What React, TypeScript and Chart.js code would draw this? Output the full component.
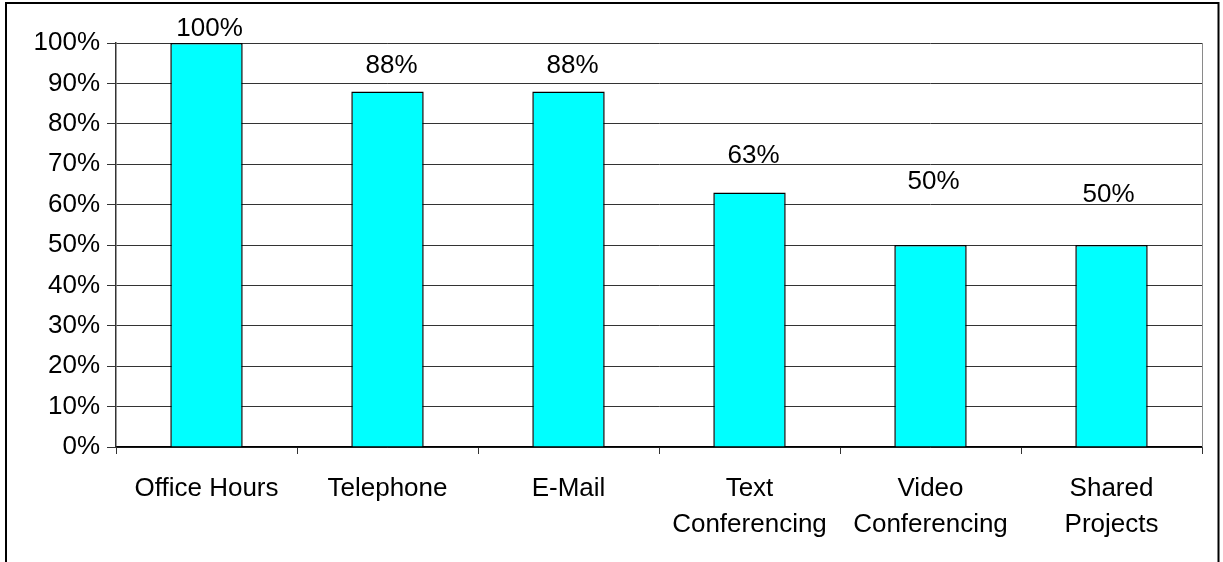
import React, { useEffect, useRef } from 'react';
import { Chart, registerables } from 'chart.js';

Chart.register(...registerables);

const categories: string[][] = [
  ['Office Hours'],
  ['Telephone'],
  ['E-Mail'],
  ['Text', 'Conferencing'],
  ['Video', 'Conferencing'],
  ['Shared', 'Projects'],
];
const values: number[] = [100, 88, 88, 63, 50, 50];
const yTickStep = 10;
const yMax = 100;

// label placement (style): lift of label centre above bar top, and horizontal nudge
const labelLift: number[] = [14, 26, 26, 37, 63, 50];
const labelNudge: number[] = [3, 4, 4, 4, 3, -3];

const FONT = '"Liberation Sans", Arial, sans-serif';

const labelPlugin = {
  id: 'barLabels',
  afterDatasetsDraw(chart: any) {
    const ctx = chart.ctx;
    const meta = chart.getDatasetMeta(0);
    ctx.save();
    ctx.font = `26px ${FONT}`;
    ctx.fillStyle = '#000';
    ctx.textAlign = 'center';
    ctx.textBaseline = 'middle';
    meta.data.forEach((el: any, i: number) => {
      ctx.fillText(`${values[i]}%`, el.x + labelNudge[i], el.y - labelLift[i]);
    });
    ctx.restore();
  },
};

const framePlugin = {
  id: 'frame',
  afterDraw(chart: any) {
    const ctx = chart.ctx;
    const a = chart.chartArea;
    ctx.save();
    ctx.strokeStyle = '#8a8a8a';
    ctx.lineWidth = 1;
    ctx.beginPath();
    ctx.moveTo(Math.round(a.right) + 0.5, a.top);
    ctx.lineTo(Math.round(a.right) + 0.5, a.bottom);
    ctx.stroke();
    ctx.strokeStyle = '#000';
    ctx.lineWidth = 2;
    ctx.strokeRect(6, 3, 1212.5, 700);
    ctx.restore();
  },
};

export default function App() {
  const ref = useRef<HTMLCanvasElement | null>(null);

  useEffect(() => {
    document.body.style.margin = '0';
    if (!ref.current) return;
    const chart = new Chart(ref.current, {
      type: 'bar',
      data: {
        labels: categories,
        datasets: [
          {
            data: values,
            backgroundColor: '#00FFFF',
            borderColor: '#000',
            borderWidth: 1.5,
            barPercentage: 0.4,
            categoryPercentage: 1,
          },
        ],
      },
      options: {
        responsive: false,
        animation: false,
        devicePixelRatio: 1,
        layout: { padding: { top: 43, right: 21, bottom: 0, left: 0 } },
        plugins: {
          legend: { display: false },
          tooltip: { enabled: false },
          title: { display: false },
        },
        scales: {
          x: {
            grid: {
              offset: true,
              drawOnChartArea: false,
              drawTicks: true,
              tickLength: 7,
              color: '#333',
            },
            border: { color: '#000', width: 1.5 },
            ticks: {
              font: { family: FONT, size: 26, lineHeight: 1.38 },
              color: '#000',
              padding: 17,
              maxRotation: 0,
              autoSkip: false,
            },
            afterFit(scale: any) {
              scale.height = 115;
            },
          },
          y: {
            min: 0,
            max: yMax,
            grid: { color: '#333', tickLength: 9 },
            border: { color: '#333', width: 1.5 },
            ticks: {
              stepSize: yTickStep,
              font: { family: FONT, size: 26 },
              color: '#000',
              padding: 7,
              callback: (v: any) => `${v}%`,
            },
            afterFit(scale: any) {
              scale.width = 116;
            },
          },
        },
      },
      plugins: [labelPlugin, framePlugin],
    });
    return () => chart.destroy();
  }, []);

  return (
    <div style={{ width: 1223, height: 562 }}>
      <canvas ref={ref} width={1223} height={562} style={{ display: 'block' }} />
    </div>
  );
}
